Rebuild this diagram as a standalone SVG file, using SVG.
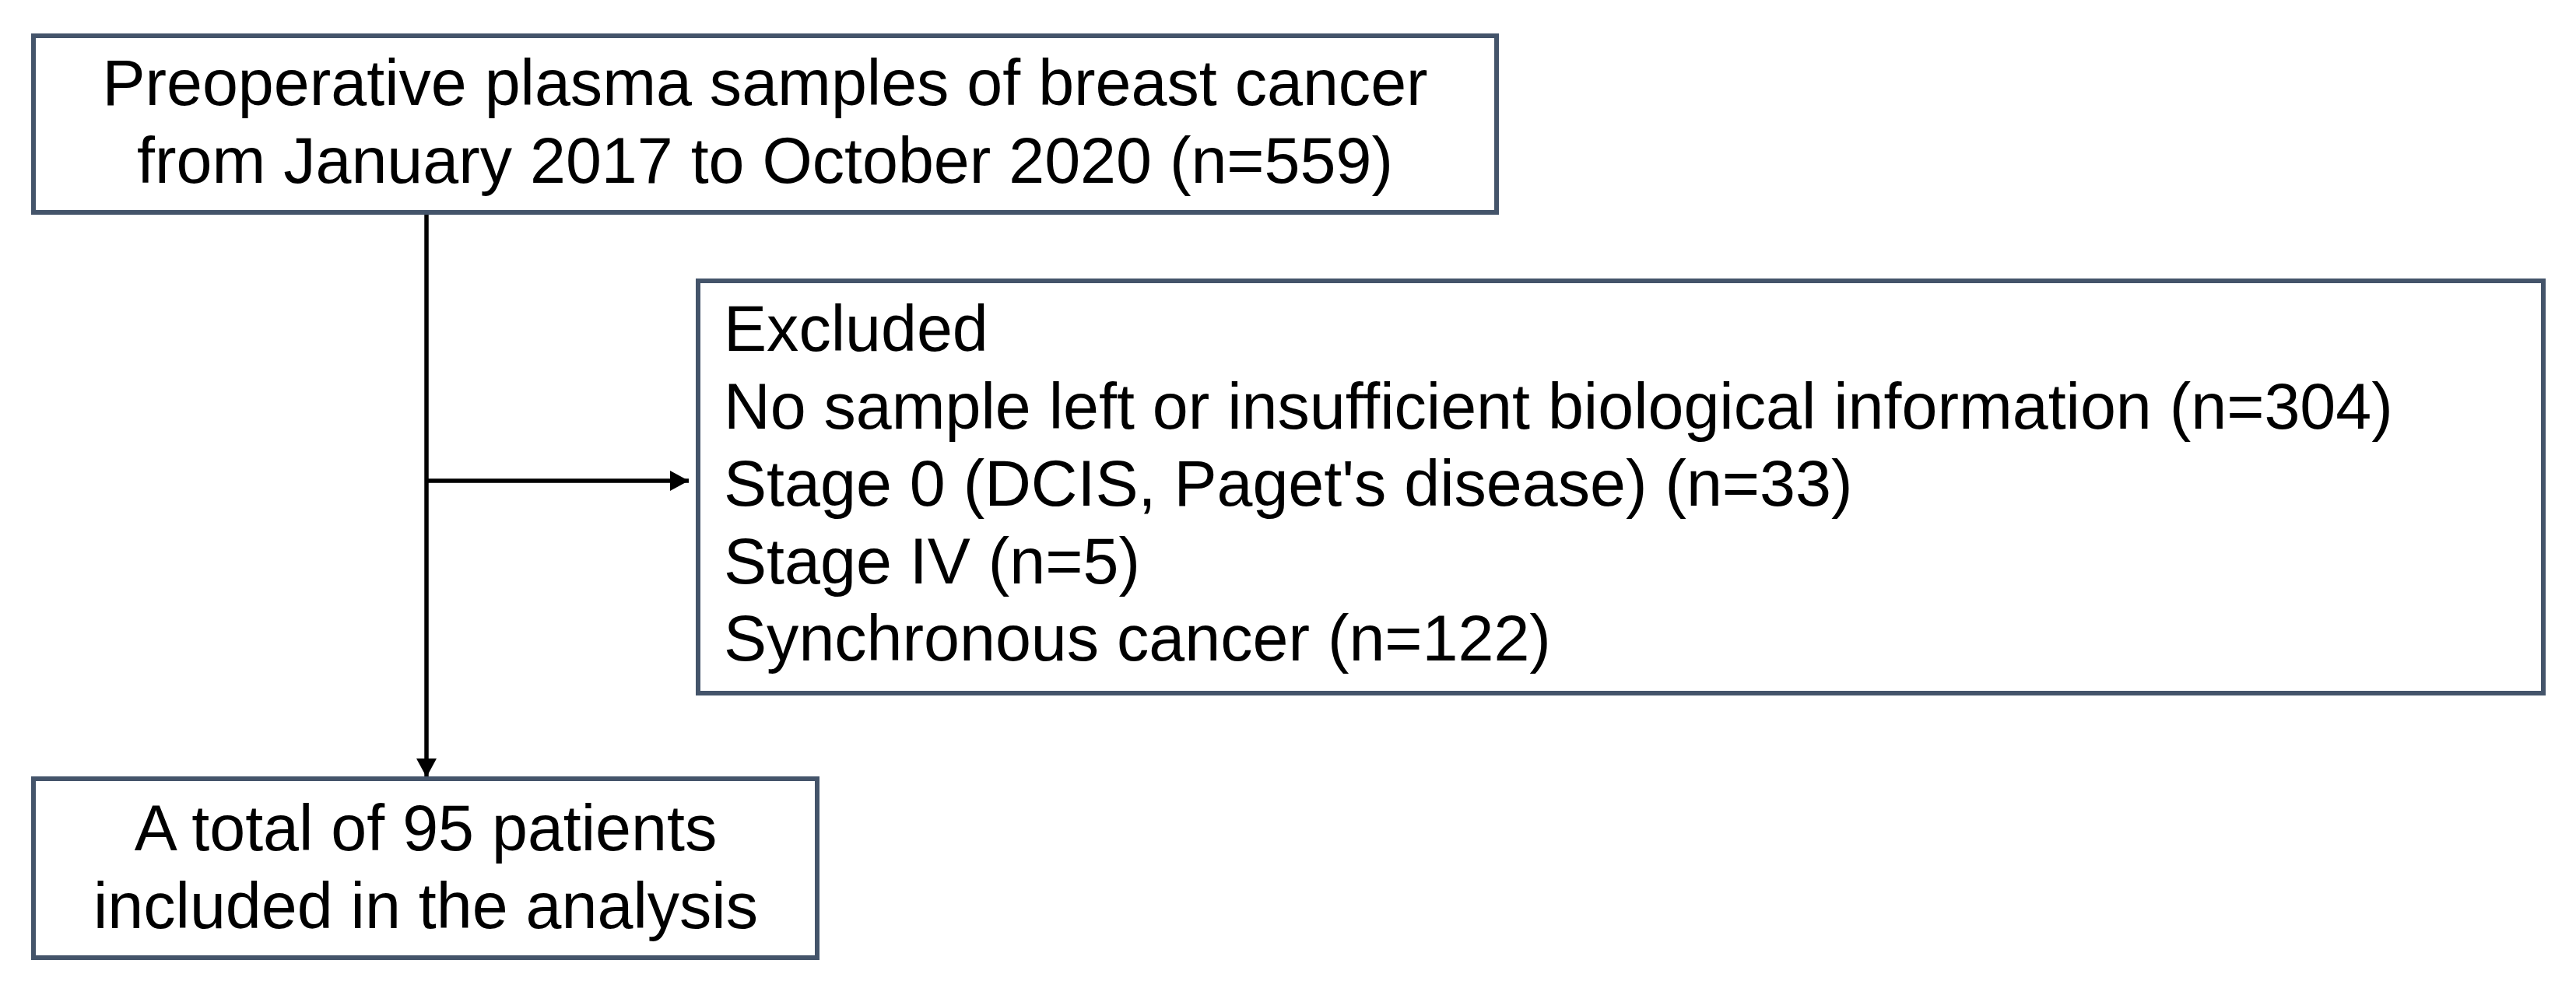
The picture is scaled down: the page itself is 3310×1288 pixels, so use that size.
<svg xmlns="http://www.w3.org/2000/svg" width="3310" height="1288" viewBox="0 0 3310 1288">
<style>
.box{fill:#ffffff;stroke:#44546A;stroke-width:6}
.t{font-family:"Liberation Sans",Arial,sans-serif;font-size:82.6px;fill:#000000}
.c{text-anchor:middle}
.ln{stroke:#000000;stroke-width:5.5;fill:none}
</style>
<defs>
<marker id="ah" markerUnits="userSpaceOnUse" markerWidth="26" markerHeight="26" refX="24" refY="13" orient="auto">
<path d="M0,0 L24,13 L0,26 z" fill="#000000"/>
</marker>
</defs>
<rect width="3310" height="1288" fill="#ffffff"/>
<g id="connectors">
<line class="ln" x1="548" y1="273" x2="548" y2="999" marker-end="url(#ah)"/>
<line class="ln" x1="548" y1="618" x2="885" y2="618" marker-end="url(#ah)"/>
</g>
<g id="node-source">
<rect class="box" x="43" y="46" width="1880" height="227"/>
<text class="t c" x="983" y="135">Preoperative plasma samples of breast cancer</text>
<text class="t c" x="983" y="235">from January 2017 to October 2020 (n=559)</text>
</g>
<g id="node-excluded">
<rect class="box" x="897" y="361" width="2371" height="530"/>
<text class="t" x="930" y="451">Excluded</text>
<text class="t" x="930" y="551">No sample left or insufficient biological information (n=304)</text>
<text class="t" x="930" y="650">Stage 0 (DCIS, Paget's disease) (n=33)</text>
<text class="t" x="930" y="750">Stage IV (n=5)</text>
<text class="t" x="930" y="849">Synchronous cancer (n=122)</text>
</g>
<g id="node-included">
<rect class="box" x="43" y="1001" width="1007" height="230"/>
<text class="t c" x="547" y="1093">A total of 95 patients</text>
<text class="t c" x="547" y="1193">included in the analysis</text>
</g>
</svg>
